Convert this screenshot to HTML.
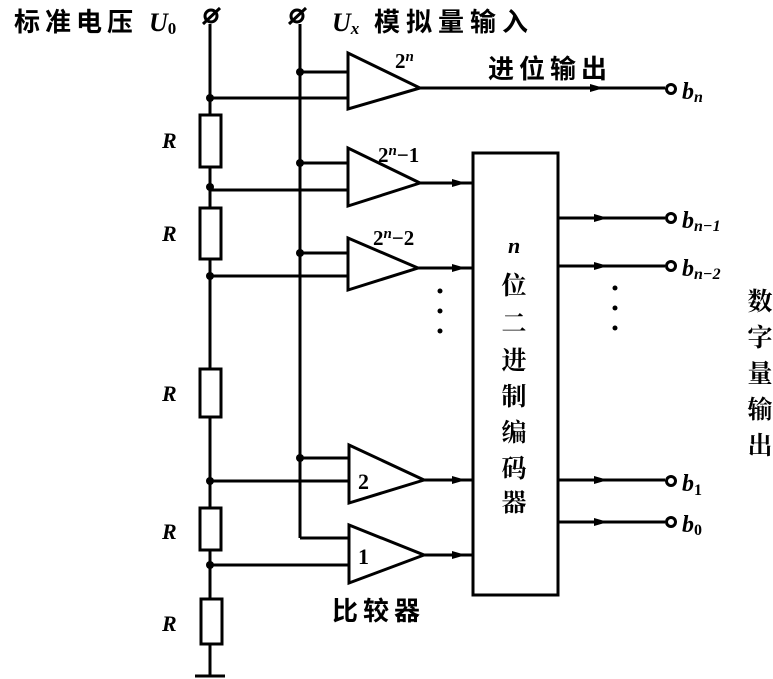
<!DOCTYPE html>
<html><head><meta charset="utf-8"><style>
body{margin:0;background:#fff}
svg{display:block}
text{font-family:"Liberation Serif","Noto Serif CJK SC",serif;font-weight:bold;fill:#000}
.cn{font-family:"Liberation Sans","Noto Sans CJK SC",sans-serif;font-weight:bold}
</style></head><body>
<svg width="773" height="679" viewBox="0 0 773 679" xmlns="http://www.w3.org/2000/svg">
<g stroke="#000" stroke-width="3" fill="none">
<line x1="210" y1="24" x2="210" y2="676"/>
<line x1="195" y1="676" x2="225" y2="676"/>
<line x1="300" y1="24" x2="300" y2="538"/>
<circle cx="211" cy="16" r="6"/><line x1="203" y1="24" x2="220" y2="8"/>
<circle cx="297" cy="16" r="6"/><line x1="289" y1="24" x2="306" y2="8"/>
<rect x="200" y="115" width="21" height="52" fill="#fff"/>
<rect x="200" y="208" width="21" height="51" fill="#fff"/>
<rect x="200" y="369" width="21" height="48" fill="#fff"/>
<rect x="200" y="508" width="21" height="42" fill="#fff"/>
<rect x="201" y="599" width="21" height="45" fill="#fff"/>
<line x1="300" y1="72" x2="348" y2="72"/><line x1="210" y1="98" x2="348" y2="98"/>
<line x1="300" y1="163" x2="348" y2="163"/><line x1="210" y1="190" x2="348" y2="190"/>
<line x1="300" y1="253" x2="348" y2="253"/><line x1="210" y1="276" x2="348" y2="276"/>
<line x1="300" y1="458" x2="348" y2="458"/><line x1="210" y1="481" x2="348" y2="481"/>
<line x1="300" y1="538" x2="348" y2="538"/><line x1="210" y1="565" x2="348" y2="565"/>
<polygon points="348,53 348,109 420,88"/>
<polygon points="348,148 348,206 420,183"/>
<polygon points="348,238 348,290 418,268"/>
<polygon points="349,445 349,503 424,480"/>
<polygon points="349,525 349,583 424,555"/>
<line x1="420" y1="88" x2="665" y2="88"/>
<line x1="420" y1="183" x2="473" y2="183"/>
<line x1="418" y1="268" x2="473" y2="268"/>
<line x1="424" y1="480" x2="473" y2="480"/>
<line x1="424" y1="555" x2="473" y2="555"/>
<rect x="473" y="153" width="85" height="442"/>
<line x1="558" y1="218" x2="665" y2="218"/>
<line x1="558" y1="266" x2="665" y2="266"/>
<line x1="558" y1="480" x2="665" y2="480"/>
<line x1="558" y1="522" x2="665" y2="522"/>
<circle cx="671" cy="89" r="4.5"/><circle cx="671" cy="218" r="4.5"/><circle cx="671" cy="266" r="4.5"/><circle cx="671" cy="481" r="4.5"/><circle cx="671" cy="522" r="4.5"/>
</g>
<g fill="#000">
<circle cx="210" cy="98" r="4"/><circle cx="210" cy="187" r="4"/><circle cx="210" cy="276" r="4"/><circle cx="210" cy="481" r="4"/><circle cx="210" cy="565" r="4"/>
<circle cx="300" cy="72" r="4"/><circle cx="300" cy="163" r="4"/><circle cx="300" cy="253" r="4"/><circle cx="300" cy="458" r="4"/>
<polygon points="590,84 604,88 590,92"/>
<polygon points="452,179 466,183 452,187"/><polygon points="452,264 466,268 452,272"/>
<polygon points="452,476 466,480 452,484"/><polygon points="452,551 466,555 452,559"/>
<polygon points="594,214 608,218 594,222"/><polygon points="594,262 608,266 594,270"/>
<polygon points="594,476 608,480 594,484"/><polygon points="594,518 608,522 594,526"/>
<circle cx="440" cy="291" r="2.5"/><circle cx="440" cy="311" r="2.5"/><circle cx="440" cy="331" r="2.5"/>
<circle cx="615" cy="288" r="2.5"/><circle cx="615" cy="308" r="2.5"/><circle cx="615" cy="328" r="2.5"/>
</g>
<text x="14" y="31" font-size="26" letter-spacing="5" class="cn">标准电压</text>
<text x="149" y="31" font-size="26" font-style="italic">U<tspan font-size="17" dy="3" font-style="normal">0</tspan></text>
<text x="332" y="31" font-size="26" font-style="italic">U<tspan font-size="17" dy="3">x</tspan></text>
<text x="374" y="31" font-size="26" letter-spacing="6" class="cn">模拟量输入</text>
<text x="488" y="78" font-size="26" letter-spacing="5" class="cn">进位输出</text>
<text x="395" y="68" font-size="21">2<tspan font-size="15" dy="-7" font-style="italic">n</tspan></text>
<text x="378" y="162" font-size="21">2<tspan font-size="15" dy="-7" font-style="italic">n</tspan><tspan dy="7">−1</tspan></text>
<text x="373" y="245" font-size="21">2<tspan font-size="15" dy="-7" font-style="italic">n</tspan><tspan dy="7">−2</tspan></text>
<text x="358" y="489" font-size="22" font-weight="normal">2</text>
<text x="358" y="564" font-size="22" font-weight="normal">1</text>
<text x="332" y="620" font-size="26" letter-spacing="5" class="cn">比较器</text>
<g font-size="22" font-style="italic">
<text x="162" y="148">R</text><text x="162" y="241">R</text><text x="162" y="401">R</text><text x="162" y="539">R</text><text x="162" y="631">R</text>
</g>
<g font-size="24" font-style="italic">
<text x="682" y="99">b<tspan font-size="16" dy="3">n</tspan></text>
<text x="682" y="228">b<tspan font-size="16" dy="3">n−1</tspan></text>
<text x="682" y="276">b<tspan font-size="16" dy="3">n−2</tspan></text>
<text x="682" y="491">b<tspan font-size="16" dy="4" font-style="normal">1</tspan></text>
<text x="682" y="532">b<tspan font-size="16" dy="3" font-style="normal">0</tspan></text>
</g>
<text x="508" y="253" font-size="22" font-style="italic">n</text>
<g font-size="25" class="cn" text-anchor="middle">
<text x="514" y="294">位</text><text x="514" y="332">二</text><text x="514" y="369">进</text><text x="514" y="405">制</text><text x="514" y="441">编</text><text x="514" y="477">码</text><text x="514" y="511">器</text>
<text x="760" y="310">数</text><text x="760" y="346">字</text><text x="760" y="382">量</text><text x="760" y="418">输</text><text x="760" y="454">出</text>
</g>
</svg>
</body></html>
